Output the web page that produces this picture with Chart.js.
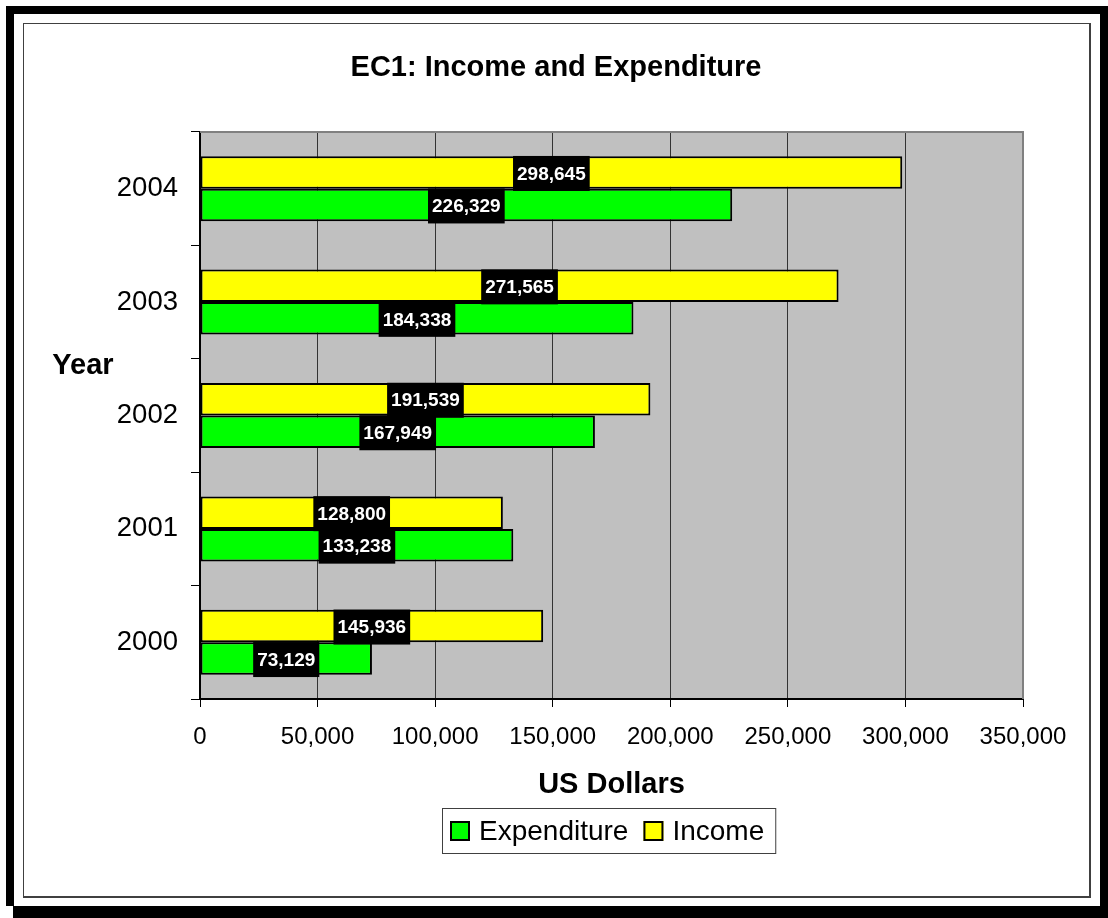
<!DOCTYPE html>
<html>
<head>
<meta charset="utf-8">
<title>EC1: Income and Expenditure</title>
<script src="https://cdn.jsdelivr.net/npm/chart.js@4/dist/chart.umd.min.js"></script>
<style>
  html, body { margin: 0; padding: 0; background: #fff; }
  #wrap { position: relative; width: 1108px; height: 918px; overflow: hidden; background: #fff; }
  .frame { position: absolute; background: #000; }
  #inner { position: absolute; left: 23px; top: 23px; width: 1068px; height: 875px;
           border: 1px solid #404040; border-right-width: 2px; border-bottom-width: 2px; box-sizing: border-box; }
  #chart { position: absolute; left: 0; top: 0; }
</style>
</head>
<body>
<div id="wrap">
  <div class="frame" style="left:6px;top:6px;width:1102px;height:8px;"></div>
  <div class="frame" style="left:6px;top:6px;width:8px;height:900px;"></div>
  <div class="frame" style="left:1100px;top:6px;width:8px;height:912px;"></div>
  <div class="frame" style="left:13px;top:906px;width:1095px;height:12px;"></div>
  <div id="inner"></div>
  <canvas id="chart" width="1108" height="918"></canvas>
</div>
<script>
// Yearly figures in US dollars
const years = ['2000', '2001', '2002', '2003', '2004'];
const expenditure = [73129, 133238, 167949, 184338, 226329];
const income = [145936, 128800, 191539, 271565, 298645];

const chartTitle = 'EC1: Income and Expenditure';
const xAxisTitle = 'US Dollars';
const yAxisTitle = 'Year';
const xMin = 0, xMax = 350000, xStep = 50000;

const FONT = '"Liberation Sans", Arial, Helvetica, sans-serif';
Chart.defaults.font.family = FONT;
Chart.defaults.color = '#000';

const fmt = v => Number(v).toLocaleString('en-US');

// Grey plot area with a grey top/right edge
const plotArea = {
  id: 'plotArea',
  beforeDraw(chart) {
    const { ctx, chartArea: a } = chart;
    ctx.save();
    ctx.fillStyle = '#C0C0C0';
    ctx.fillRect(a.left, a.top, a.right - a.left, a.bottom - a.top);
    ctx.restore();
  },
  beforeDatasetsDraw(chart) {
    const { ctx, chartArea: a } = chart;
    ctx.save();
    ctx.strokeStyle = '#808080';
    ctx.lineWidth = 2;
    ctx.beginPath();
    ctx.moveTo(a.left, a.top);
    ctx.lineTo(a.right, a.top);
    ctx.lineTo(a.right, a.bottom);
    ctx.stroke();
    ctx.restore();
  }
};

// White value labels on black boxes, centred in each bar
const valueLabels = {
  id: 'valueLabels',
  afterDatasetsDraw(chart) {
    const { ctx } = chart;
    ctx.save();
    ctx.font = 'bold 19px ' + FONT;
    ctx.textAlign = 'center';
    ctx.textBaseline = 'middle';
    chart.data.datasets.forEach((ds, di) => {
      const meta = chart.getDatasetMeta(di);
      meta.data.forEach((el, i) => {
        const text = fmt(ds.data[i]);
        const cx = (el.x + el.base) / 2;
        const cy = el.y + 1;
        const w = ctx.measureText(text).width + 8;
        const h = 35;
        ctx.fillStyle = '#000';
        ctx.fillRect(cx - w / 2, cy - h / 2, w, h);
        ctx.fillStyle = '#fff';
        ctx.fillText(text, cx, cy + 1);
      });
    });
    ctx.restore();
  }
};

// Chart heading and the horizontal "Year" caption
const captions = {
  id: 'captions',
  afterDraw(chart) {
    const { ctx, chartArea: a } = chart;
    ctx.save();
    ctx.font = 'bold 29px ' + FONT;
    ctx.textAlign = 'center';
    ctx.textBaseline = 'middle';
    ctx.fillStyle = '#000';
    ctx.fillText(chartTitle, 556, 68);
    ctx.fillText(yAxisTitle, a.left - 117, 366);
    ctx.restore();
  }
};

// Boxed legend below the axis title
const boxedLegend = {
  id: 'boxedLegend',
  afterDraw(chart) {
    const { ctx } = chart;
    const items = chart.data.datasets.map(d => ({ label: d.label, color: d.backgroundColor })).reverse();
    ctx.save();
    ctx.font = '28px ' + FONT;
    const sq = 20, gap = 9, spacing = 15, padL = 8, padR = 11;
    let total = padL + padR;
    items.forEach((it, i) => {
      it.w = ctx.measureText(it.label).width;
      total += sq + gap + it.w + (i < items.length - 1 ? spacing : 0);
    });
    const cx = 608.5, top = 808, h = 45;
    const left = Math.round(cx - total / 2);
    ctx.fillStyle = '#fff';
    ctx.fillRect(left, top, total, h);
    ctx.strokeStyle = '#404040';
    ctx.lineWidth = 1;
    ctx.strokeRect(left + 0.5, top + 0.5, total, h);
    let x = left + padL;
    const cy = top + h / 2 + 0.5;
    ctx.textBaseline = 'middle';
    ctx.textAlign = 'left';
    items.forEach(it => {
      ctx.fillStyle = it.color;
      ctx.fillRect(x, cy - sq / 2, sq, sq);
      ctx.strokeStyle = '#000';
      ctx.lineWidth = 2;
      ctx.strokeRect(x + 1, cy - sq / 2 + 1, sq - 2, sq - 2);
      x += sq + gap;
      ctx.fillStyle = '#000';
      ctx.fillText(it.label, x, cy + 1);
      x += it.w + spacing;
    });
    ctx.restore();
  }
};

new Chart(document.getElementById('chart').getContext('2d'), {
  type: 'bar',
  data: {
    labels: years,
    datasets: [
      { label: 'Income', data: income, backgroundColor: '#FFFF00', borderColor: '#000', borderWidth: 2, borderSkipped: false },
      { label: 'Expenditure', data: expenditure, backgroundColor: '#00FF00', borderColor: '#000', borderWidth: 2, borderSkipped: false }
    ]
  },
  options: {
    indexAxis: 'y',
    responsive: false,
    animation: false,
    layout: { padding: { top: 132, left: 0, right: 85, bottom: 109 } },
    datasets: { bar: { categoryPercentage: 0.573, barPercentage: 1 } },
    plugins: {
      legend: { display: false },
      tooltip: { enabled: false },
      title: { display: false }
    },
    scales: {
      x: {
        min: xMin, max: xMax,
        ticks: { stepSize: xStep, callback: v => fmt(v), font: { size: 24 }, color: '#000', padding: 16, maxRotation: 0, autoSkip: false },
        grid: { color: '#333', lineWidth: 1, tickColor: '#000', tickLength: 8, drawOnChartArea: true },
        border: { color: '#000', width: 2 },
        title: { display: true, text: xAxisTitle, color: '#000', font: { size: 29, weight: 'bold' }, padding: { top: 0, bottom: 7 } },
        afterFit(s) { s.height = 110; }
      },
      y: {
        reverse: true,
        ticks: { font: { size: 27.5 }, color: '#000', padding: 13 },
        grid: { drawOnChartArea: false, tickColor: '#000', tickLength: 9, offset: true },
        border: { color: '#000', width: 2 },
        afterFit(s) { s.width = 200; }
      }
    }
  },
  plugins: [plotArea, valueLabels, captions, boxedLegend]
});
</script>
</body>
</html>
